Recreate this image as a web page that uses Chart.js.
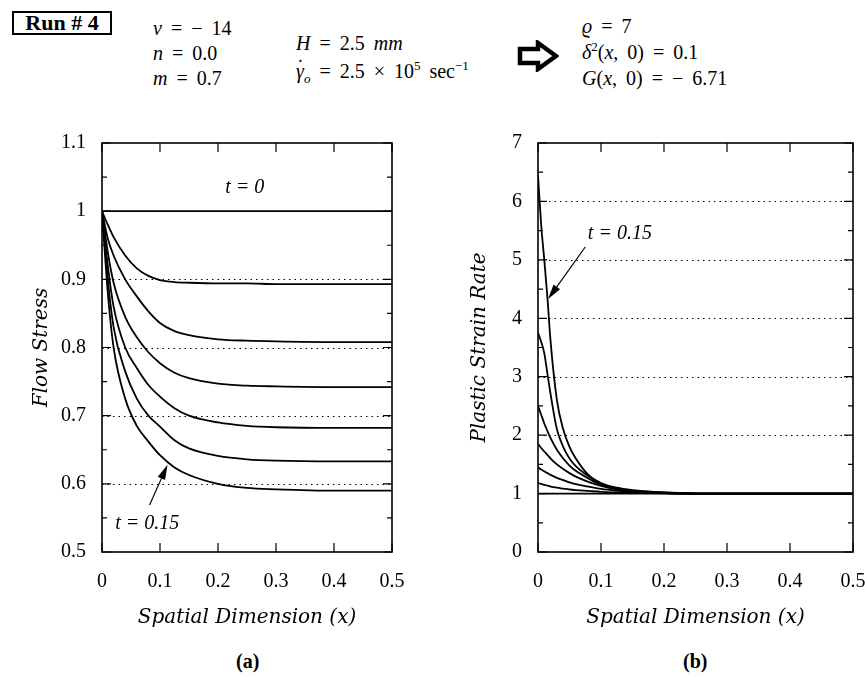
<!DOCTYPE html>
<html lang="en">
<head>
<meta charset="UTF-8">
<title>Run # 4</title>
<style>
  body { margin: 0; background: #fff; width: 865px; height: 678px; position: relative; overflow: hidden;
         font-family: "Liberation Serif", serif; color: #000; }
  .abs { position: absolute; white-space: nowrap; }
  canvas { position: absolute; top: 0; }
  #run { left: 12px; top: 11px; width: 80px; text-align: center; border: 2px solid #000; padding: 0 8px;
         font-weight: bold; font-size: 22px; line-height: 20px; }
  .hd { font-size: 20px; word-spacing: 4px; }
  .hd sup, .hd sub { font-size: 13px; line-height: 0; }
  .dot { position: relative; font-style: italic; }
  .dot::after { content: "\02D9"; position: absolute; left: 1px; top: -7px; font-style: normal; }
  .cap { font-weight: bold; font-size: 20px; top: 650px; }
</style>
</head>
<body>
<div id="run" class="abs">Run # 4</div>
<div class="abs hd" style="left:153px;top:16px;line-height:25px"><i>ν</i> = − 14<br><i>n</i> = 0.0<br><i>m</i> = 0.7</div>
<div class="abs hd" style="left:296px;top:29px;line-height:28px"><i>H</i> = 2.5 <i>mm</i><br><span class="dot">γ</span><sub><i>o</i></sub> = 2.5 × 10<sup>5</sup> sec<sup>−1</sup></div>
<svg class="abs" style="left:517px;top:40px" width="42" height="32" viewBox="0 0 42 32">
  <path d="M3 9 H21 V3 L39 16 L21 29 V23 H3 Z" fill="none" stroke="#000" stroke-width="4.5" stroke-linejoin="miter"/>
</svg>
<div class="abs hd" style="left:582px;top:13px;line-height:26px"><i>ϱ</i> = 7<br><i>δ</i><sup>2</sup>(<i>x</i>, 0) = 0.1<br><i>G</i>(<i>x</i>, 0) = − 6.71</div>
<div class="abs cap" style="left:236px">(a)</div>
<div class="abs cap" style="left:683px">(b)</div>

<canvas id="left" width="430" height="678" style="left:0;width:430px;height:678px"></canvas>
<canvas id="right" width="460" height="678" style="left:432px;width:460px;height:678px"></canvas>

<script src="https://cdn.jsdelivr.net/npm/chart.js"></script>
<script>
// (a) flow stress vs x, one curve per time step
const xStress = [0, 0.01, 0.02, 0.04, 0.06, 0.08, 0.1, 0.125, 0.15, 0.2, 0.25, 0.3, 0.4, 0.5];
const stressT0 = [1, 1, 1, 1, 1, 1, 1, 1, 1, 1, 1, 1, 1, 1];
const stressA = [1, 0.98, 0.962, 0.935, 0.916, 0.905, 0.899, 0.896, 0.895, 0.894, 0.894, 0.893, 0.893, 0.893];
const stressB = [1, 0.96, 0.935, 0.90, 0.875, 0.853, 0.836, 0.824, 0.818, 0.812, 0.81, 0.809, 0.808, 0.808];
const stressC = [1, 0.94, 0.895, 0.845, 0.815, 0.793, 0.777, 0.763, 0.755, 0.747, 0.744, 0.743, 0.742, 0.742];
const stressD = [1, 0.92, 0.86, 0.80, 0.77, 0.745, 0.728, 0.711, 0.70, 0.69, 0.685, 0.683, 0.682, 0.682];
const stressE = [1, 0.90, 0.83, 0.765, 0.725, 0.70, 0.684, 0.664, 0.652, 0.641, 0.636, 0.634, 0.633, 0.633];
const stressF = [1, 0.88, 0.80, 0.725, 0.685, 0.662, 0.642, 0.624, 0.613, 0.60, 0.594, 0.592, 0.590, 0.590];

// (b) plastic strain rate vs x
const xRate = [0, 0.005, 0.01, 0.015, 0.02, 0.03, 0.04, 0.05, 0.06, 0.08, 0.1, 0.125, 0.15, 0.2, 0.25, 0.3, 0.4, 0.5];
const rateT0 = [1, 1, 1, 1, 1, 1, 1, 1, 1, 1, 1, 1, 1, 1, 1, 1, 1, 1];
const rateA = [1.18, 1.165, 1.15, 1.135, 1.12, 1.10, 1.085, 1.07, 1.06, 1.045, 1.03, 1.02, 1.012, 1.005, 1, 1, 1, 1];
const rateB = [1.45, 1.41, 1.38, 1.35, 1.32, 1.27, 1.23, 1.19, 1.16, 1.12, 1.08, 1.05, 1.03, 1.01, 1, 1, 1, 1];
const rateC = [1.85, 1.78, 1.72, 1.66, 1.6, 1.5, 1.42, 1.35, 1.29, 1.2, 1.13, 1.07, 1.04, 1.01, 1, 1, 1, 1];
const rateD = [2.5, 2.35, 2.2, 2.07, 1.95, 1.75, 1.6, 1.48, 1.39, 1.26, 1.15, 1.08, 1.04, 1.01, 1, 1, 1, 1];
const rateE = [3.75, 3.6, 3.4, 3.05, 2.7, 2.1, 1.8, 1.6, 1.47, 1.3, 1.17, 1.09, 1.05, 1.02, 1, 1, 1, 1];
const rateF = [6.45, 5.6, 5.0, 4.35, 3.6, 2.6, 2.1, 1.8, 1.6, 1.32, 1.18, 1.1, 1.06, 1.02, 1, 1, 1, 1];

const xTicks = [0, 0.1, 0.2, 0.3, 0.4, 0.5];
const stressTicks = [0.5, 0.6, 0.7, 0.8, 0.9, 1, 1.1];
const rateTicks = [0, 1, 2, 3, 4, 5, 6, 7];

const serif = "Liberation Serif";
const titleFont = { family: "DejaVu Serif", style: "italic", size: 20 };

function toPoints(xs, ys) {
  return ys.map((y, i) => ({ x: xs[i], y: y }));
}

function lineSet(xs, ys) {
  return {
    data: toPoints(xs, ys),
    borderColor: "#000",
    borderWidth: 1.8,
    pointRadius: 0,
    fill: false,
    cubicInterpolationMode: "monotone"
  };
}

// dotted grid, boxed frame with inward ticks, and the t = ... notes
const framePlugin = {
  id: "frame",
  beforeDatasetsDraw(chart, args, opts) {
    const { ctx, chartArea: a, scales: { y } } = chart;
    ctx.save();
    ctx.strokeStyle = "#000";
    ctx.lineWidth = 1;
    ctx.setLineDash([1.5, 4]);
    opts.grid.forEach(v => {
      const py = Math.round(y.getPixelForValue(v)) + 0.5;
      ctx.beginPath();
      ctx.moveTo(a.left, py);
      ctx.lineTo(a.right, py);
      ctx.stroke();
    });
    ctx.restore();
  },
  afterDatasetsDraw(chart, args, opts) {
    const { ctx, chartArea: a, scales: { x, y } } = chart;
    ctx.save();
    ctx.strokeStyle = "#000";
    ctx.lineWidth = 1.6;
    ctx.strokeRect(a.left, a.top, a.right - a.left, a.bottom - a.top);

    ctx.lineWidth = 1.2;
    ctx.beginPath();
    xTicks.forEach(v => {
      const px = x.getPixelForValue(v);
      ctx.moveTo(px, a.bottom); ctx.lineTo(px, a.bottom - 9);
      ctx.moveTo(px, a.top); ctx.lineTo(px, a.top + 9);
    });
    opts.yTicks.forEach((v, i) => {
      const py = y.getPixelForValue(v);
      ctx.moveTo(a.left, py); ctx.lineTo(a.left + 9, py);
      ctx.moveTo(a.right, py); ctx.lineTo(a.right - 9, py);
      if (i < opts.yTicks.length - 1) {
        const pm = y.getPixelForValue((v + opts.yTicks[i + 1]) / 2);
        ctx.moveTo(a.left, pm); ctx.lineTo(a.left + 5, pm);
        ctx.moveTo(a.right, pm); ctx.lineTo(a.right - 5, pm);
      }
    });
    ctx.stroke();

    ctx.fillStyle = "#000";
    ctx.font = "italic 20px " + serif;
    ctx.textAlign = "center";
    ctx.textBaseline = "middle";
    opts.notes.forEach(n => {
      ctx.fillText(n.text, x.getPixelForValue(n.x), y.getPixelForValue(n.y));
    });

    ctx.lineWidth = 1.2;
    opts.arrows.forEach(ar => {
      const x0 = x.getPixelForValue(ar.from[0]), y0 = y.getPixelForValue(ar.from[1]);
      const x1 = x.getPixelForValue(ar.to[0]), y1 = y.getPixelForValue(ar.to[1]);
      const ang = Math.atan2(y1 - y0, x1 - x0);
      const c = Math.cos(ang), s = Math.sin(ang);
      ctx.beginPath();
      ctx.moveTo(x0, y0);
      ctx.lineTo(x1 - 10 * c, y1 - 10 * s);
      ctx.stroke();
      ctx.beginPath();
      ctx.moveTo(x1, y1);
      ctx.lineTo(x1 - 15 * c + 4 * s, y1 - 15 * s - 4 * c);
      ctx.lineTo(x1 - 15 * c - 4 * s, y1 - 15 * s + 4 * c);
      ctx.closePath();
      ctx.fill();
    });
    ctx.restore();
  }
};

function tickFmt(v) {
  return String(Number(v.toFixed(2)));
}

function makeChart(id, datasets, yMin, yMax, yTitle, yWidth, padRight, yTitlePad, plugOpts) {
  return new Chart(document.getElementById(id), {
    type: "scatter",
    data: { datasets: datasets },
    plugins: [framePlugin],
    options: {
      responsive: false,
      animation: false,
      showLine: true,
      layout: { padding: { top: 143, right: padRight, bottom: 36, left: 0 } },
      plugins: { legend: { display: false }, tooltip: { enabled: false }, frame: plugOpts },
      scales: {
        x: {
          type: "linear", min: 0, max: 0.5,
          afterFit(s) { s.height = 90; },
          grid: { display: false, drawTicks: false },
          border: { display: false },
          afterBuildTicks(s) { s.ticks = xTicks.map(v => ({ value: v })); },
          ticks: { padding: 18, color: "#000", font: { family: serif, size: 20 }, callback: tickFmt },
          title: { display: true, text: "Spatial Dimension (x)", color: "#000",
                   font: titleFont, padding: { bottom: 12 } }
        },
        y: {
          type: "linear", min: yMin, max: yMax,
          afterFit(s) { s.width = yWidth; },
          grid: { display: false, drawTicks: false },
          border: { display: false },
          afterBuildTicks(s) { s.ticks = plugOpts.yTicks.map(v => ({ value: v })); },
          ticks: { padding: 16, color: "#000", font: { family: serif, size: 20 }, callback: tickFmt },
          title: { display: true, text: yTitle, color: "#000",
                   font: titleFont, padding: { top: yTitlePad } }
        }
      }
    }
  });
}

makeChart("left", [
  lineSet(xStress, stressT0), lineSet(xStress, stressA), lineSet(xStress, stressB),
  lineSet(xStress, stressC), lineSet(xStress, stressD), lineSet(xStress, stressE),
  lineSet(xStress, stressF)
], 0.5, 1.1, "Flow Stress", 102, 38, 30, {
  yTicks: stressTicks,
  grid: [0.6, 0.7, 0.8, 0.9],
  notes: [{ text: "t = 0", x: 0.246, y: 1.035 }, { text: "t = 0.15", x: 0.078, y: 0.542 }],
  arrows: [{ from: [0.082, 0.569], to: [0.113, 0.628] }]
});

makeChart("right", [
  lineSet(xRate, rateT0), lineSet(xRate, rateA), lineSet(xRate, rateB),
  lineSet(xRate, rateC), lineSet(xRate, rateD), lineSet(xRate, rateE),
  lineSet(xRate, rateF)
], 0, 7, "Plastic Strain Rate", 106, 39, 36, {
  yTicks: rateTicks,
  grid: [2, 3, 4, 5, 6],
  notes: [{ text: "t = 0.15", x: 0.13, y: 5.45 }],
  arrows: [{ from: [0.075, 5.22], to: [0.016, 4.33] }]
});
</script>
</body>
</html>
